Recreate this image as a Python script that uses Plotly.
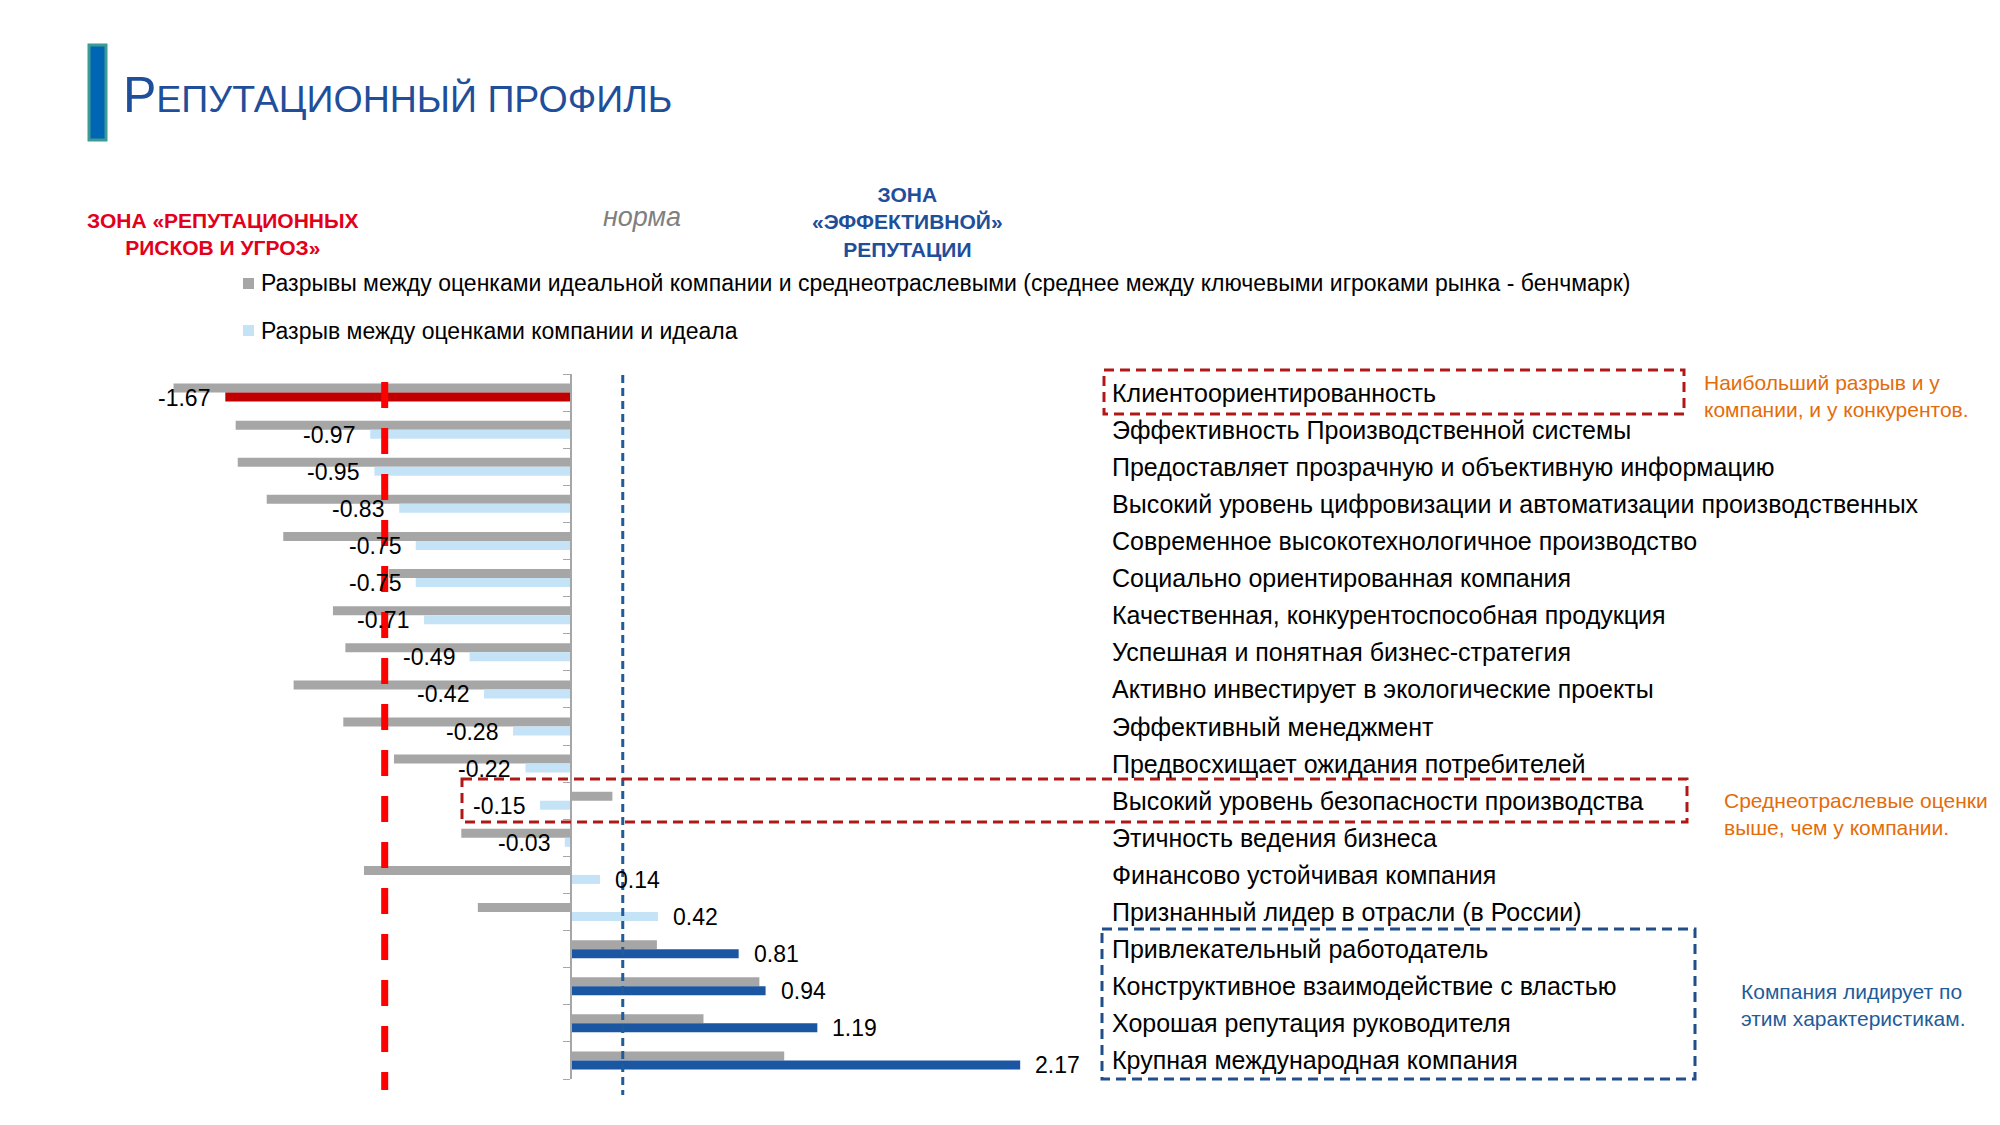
import plotly.graph_objects as go

# ---------------- data ----------------
categories = [
    "Клиентоориентированность",
    "Эффективность Производственной системы",
    "Предоставляет прозрачную и объективную информацию",
    "Высокий уровень цифровизации и автоматизации производственных",
    "Современное высокотехнологичное производство",
    "Социально ориентированная компания",
    "Качественная, конкурентоспособная продукция",
    "Успешная и понятная бизнес-стратегия",
    "Активно инвестирует в экологические проекты",
    "Эффективный менеджмент",
    "Предвосхищает ожидания потребителей",
    "Высокий уровень безопасности производства",
    "Этичность ведения бизнеса",
    "Финансово устойчивая компания",
    "Признанный лидер в отрасли (в России)",
    "Привлекательный работодатель",
    "Конструктивное взаимодействие с властью",
    "Хорошая репутация руководителя",
    "Крупная международная компания",
]
benchmark_gap = [-1.92, -1.62, -1.61, -1.47, -1.39, -0.88, -1.15, -1.09, -1.34, -1.10,
                 -0.855, 0.20, -0.53, -1.00, -0.45, 0.415, 0.91, 0.64, 1.03]
company_gap = [-1.67, -0.97, -0.95, -0.83, -0.75, -0.75, -0.71, -0.49, -0.42, -0.28,
               -0.22, -0.15, -0.03, 0.14, 0.42, 0.81, 0.94, 1.19, 2.17]
company_group = ["risk"] + ["mid"] * 14 + ["lead"] * 4

legend_benchmark = "Разрывы между оценками идеальной компании и среднеотраслевыми (среднее между ключевыми игроками рынка - бенчмарк)"
legend_company = "Разрыв между оценками компании и идеала"

risk_threshold = -0.90
effective_threshold = 0.25

# ---------------- styling ----------------
W, H = 2000, 1125
L, R, T, B = 100, 900, 374, 46
PW, PH = W - L - R, H - T - B
ZERO_PX, UNIT_PX = 571, 207.0
x_range = [(L - ZERO_PX) / UNIT_PX, (L + PW - ZERO_PX) / UNIT_PX]

def px(xp):
    return (xp - L) / PW

def py(yp):
    return (H - B - yp) / PH

GRAY = "#A6A6A6"
LIGHT = "#C5E3F7"
RED = "#C00000"
DARK = "#1B56A3"
color_map = {"risk": RED, "mid": LIGHT, "lead": DARK}
FONT = "Liberation Sans, Arial, sans-serif"

n = len(categories)
ypos = list(range(n))

fig = go.Figure()
fig.add_trace(go.Bar(
    y=ypos, x=benchmark_gap, orientation="h", marker_color=GRAY,
    marker_line_width=0, name=legend_benchmark, showlegend=False,
))
fig.add_trace(go.Bar(
    y=ypos, x=company_gap, orientation="h",
    marker_color=[color_map[g] for g in company_group],
    marker_line_width=0, name=legend_company, showlegend=False,
))

annotations = []
# value labels
for i, v in enumerate(company_gap):
    annotations.append(dict(
        x=v, y=i, xref="x", yref="y", text=f"{v:.2f}", showarrow=False,
        xanchor="right" if v < 0 else "left", xshift=-13 if v < 0 else 13,
        yshift=-5, font=dict(family=FONT, size=23, color="#000000"),
    ))
# category labels on the right
for i, c in enumerate(categories):
    annotations.append(dict(
        x=px(1110), y=i, xref="paper", yref="y", text=c, showarrow=False,
        xanchor="left", yanchor="middle", font=dict(family=FONT, size=25, color="#000000"),
    ))

# title
annotations.append(dict(
    x=px(121), y=py(95), xref="paper", yref="paper", xanchor="left", yanchor="middle",
    text="<span style='font-size:50px'>Р</span>ЕПУТАЦИОННЫЙ ПРОФИЛЬ", showarrow=False,
    font=dict(family=FONT, size=37.5, color="#1F4E9A"),
))
# zone headings
annotations.append(dict(
    x=px(223), y=py(234), xref="paper", yref="paper", xanchor="center", yanchor="middle",
    text="<b>ЗОНА «РЕПУТАЦИОННЫХ<br>РИСКОВ И УГРОЗ»</b>", showarrow=False,
    font=dict(family=FONT, size=21, color="#E3001B"),
))
annotations.append(dict(
    x=px(642), y=py(217), xref="paper", yref="paper", xanchor="center", yanchor="middle",
    text="<i>норма</i>", showarrow=False,
    font=dict(family=FONT, size=27, color="#808080"),
))
annotations.append(dict(
    x=px(907), y=py(222), xref="paper", yref="paper", xanchor="center", yanchor="middle",
    text="<b>ЗОНА<br>«ЭФФЕКТИВНОЙ»<br>РЕПУТАЦИИ</b>", showarrow=False,
    font=dict(family=FONT, size=21, color="#1F4E9A"),
))
# legend texts
annotations.append(dict(
    x=px(259), y=py(283), xref="paper", yref="paper", xanchor="left", yanchor="middle",
    text=legend_benchmark, showarrow=False, font=dict(family=FONT, size=23, color="#000000"),
))
annotations.append(dict(
    x=px(259), y=py(331), xref="paper", yref="paper", xanchor="left", yanchor="middle",
    text=legend_company, showarrow=False, font=dict(family=FONT, size=23, color="#000000"),
))
# side notes
annotations.append(dict(
    x=px(1702), y=py(396), xref="paper", yref="paper", xanchor="left", yanchor="middle",
    text="Наибольший разрыв и у<br>компании, и у конкурентов.", showarrow=False, align="left",
    font=dict(family=FONT, size=21, color="#E46C0A"),
))
annotations.append(dict(
    x=px(1722), y=py(814), xref="paper", yref="paper", xanchor="left", yanchor="middle",
    text="Среднеотраслевые оценки<br>выше, чем у компании.", showarrow=False, align="left",
    font=dict(family=FONT, size=21, color="#E46C0A"),
))
annotations.append(dict(
    x=px(1739), y=py(1005), xref="paper", yref="paper", xanchor="left", yanchor="middle",
    text="Компания лидирует по<br>этим характеристикам.", showarrow=False, align="left",
    font=dict(family=FONT, size=21, color="#1F5C99"),
))

shapes = []
# title bar
shapes.append(dict(type="rect", xref="paper", yref="paper",
                   x0=px(89), x1=px(106), y0=py(45), y1=py(140),
                   fillcolor="#0066B3", line=dict(color="#3C9C94", width=3)))
# legend squares
shapes.append(dict(type="rect", xref="paper", yref="paper",
                   x0=px(243), x1=px(254), y0=py(278), y1=py(289),
                   fillcolor=GRAY, line=dict(width=0)))
shapes.append(dict(type="rect", xref="paper", yref="paper",
                   x0=px(243), x1=px(254), y0=py(325), y1=py(336),
                   fillcolor=LIGHT, line=dict(width=0)))
# threshold lines
shapes.append(dict(type="line", xref="x", yref="paper", x0=risk_threshold, x1=risk_threshold,
                   y0=py(382), y1=py(1090), line=dict(color="#FF0000", width=7, dash="26px,20px")))
shapes.append(dict(type="line", xref="x", yref="paper", x0=effective_threshold, x1=effective_threshold,
                   y0=py(375), y1=py(1095), line=dict(color="#1F5C99", width=3, dash="8px,5px")))
# highlight boxes
shapes.append(dict(type="rect", xref="paper", yref="paper",
                   x0=px(1104), x1=px(1684), y0=py(370), y1=py(414),
                   line=dict(color="#B01818", width=3, dash="10px,6px")))
shapes.append(dict(type="rect", xref="paper", yref="paper",
                   x0=px(462), x1=px(1687), y0=py(779), y1=py(822),
                   line=dict(color="#B01818", width=3, dash="10px,6px")))
shapes.append(dict(type="rect", xref="paper", yref="paper",
                   x0=px(1102), x1=px(1695), y0=py(929), y1=py(1079),
                   line=dict(color="#1F4E8A", width=3, dash="10px,6px")))

fig.update_layout(
    width=W, height=H, autosize=False,
    margin=dict(l=L, r=R, t=T, b=B, pad=0),
    paper_bgcolor="white", plot_bgcolor="white",
    barmode="group", bargap=0.515, bargroupgap=0,
    showlegend=False,
    annotations=annotations, shapes=shapes,
    xaxis=dict(range=x_range, showgrid=False, zeroline=False, showticklabels=False,
               showline=False, ticks=""),
    yaxis=dict(range=[n - 0.5, -0.5], showgrid=False, zeroline=False,
               anchor="free", position=px(ZERO_PX), side="left",
               showline=True, linecolor=GRAY, linewidth=1.5,
               tickmode="array", tickvals=[k - 0.5 for k in range(n + 1)],
               ticktext=[""] * (n + 1), ticks="outside", ticklen=7, tickcolor=GRAY,
               tickwidth=1),
)

fig.write_html("out.html", config={"displayModeBar": False},
               post_script="document.body.style.margin='0';document.body.style.overflow='hidden';")
